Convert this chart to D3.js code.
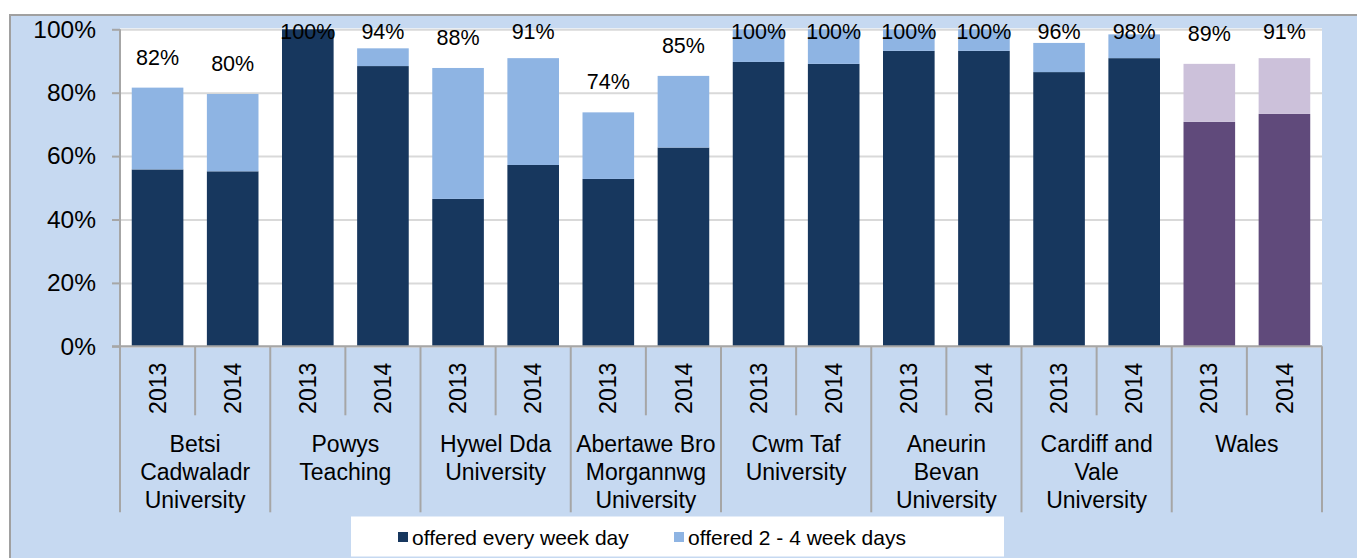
<!DOCTYPE html>
<html>
<head>
<meta charset="utf-8">
<script src="https://cdn.jsdelivr.net/npm/d3@7"></script>
<style>
  html, body { margin: 0; padding: 0; background: #fff; }
  svg { display: block; font-family: "Liberation Sans", Arial, sans-serif; }
</style>
</head>
<body>
<div id="chart"></div>
<script>
// health boards, two years each
const boards = [
  ["Betsi", "Cadwaladr", "University"],
  ["Powys", "Teaching"],
  ["Hywel Dda", "University"],
  ["Abertawe Bro", "Morgannwg", "University"],
  ["Cwm Taf", "University"],
  ["Aneurin", "Bevan", "University"],
  ["Cardiff and", "Vale", "University"],
  ["Wales"]
];
const years = ["2013", "2014"];
const yTicks = [0, 20, 40, 60, 80, 100];
const seriesNames = ["offered every week day", "offered 2 - 4 week days"];

// % offered, in board/year order
const everyDay  = [55.8, 55.2, 100, 88.4, 46.5, 57.2, 52.8, 62.7, 89.7, 89.1, 93.2, 93.2, 86.5, 90.9, 70.8, 73.3];
const twoToFour = [25.8, 24.4, 0,   5.6,  41.3, 33.7, 21.0, 22.6, 10.3, 10.9, 6.8,  6.8,  9.2,  7.5,  18.3, 17.6];

const W = 1357, H = 558;
const plotL = 120, plotR = 1322, plotT = 29.3, plotB = 346.3;
const dark = "#17375e", light = "#8eb4e3";
const walesDark = "#604a7b", walesLight = "#ccc1da";
const axisGrey = "#a6a6a6";

const svg = d3.select("#chart").append("svg")
    .attr("width", W)
    .attr("height", H);

// outer chart area
svg.append("rect")
    .attr("x", 10).attr("y", 15)
    .attr("width", W - 10).attr("height", H - 15)
    .attr("fill", "#c6d9f1");
svg.append("path")
    .attr("d", `M10,${H} L10,15 L${W},15`)
    .attr("fill", "none")
    .attr("stroke", "#a0a0a0")
    .attr("stroke-width", 2);

// plot area
svg.append("rect")
    .attr("x", plotL).attr("y", plotT - 1)
    .attr("width", plotR - plotL).attr("height", plotB - plotT + 1)
    .attr("fill", "#fff");

const rows = [];
boards.forEach((b, bi) => {
  years.forEach((yr, yi) => {
    const i = bi * years.length + yi;
    rows.push({ i, board: bi, year: yr, every: everyDay[i], some: twoToFour[i], wales: bi === boards.length - 1 });
  });
});

const x = d3.scaleBand()
    .domain(rows.map(d => d.i))
    .range([plotL, plotR])
    .paddingInner(0.313)
    .paddingOuter(0.1565);

const y = d3.scaleLinear().domain([0, 100]).range([plotB, plotT]);

// gridlines
svg.append("g")
    .attr("transform", `translate(${plotL},0)`)
    .call(d3.axisLeft(y).tickValues(yTicks).tickSize(-(plotR - plotL)).tickFormat(""))
    .call(g => g.select(".domain").remove())
    .call(g => g.selectAll("line").attr("stroke", "#d9d9d9").attr("stroke-width", 2));

// bars
const bars = svg.append("g");
bars.selectAll("rect.every")
  .data(rows)
  .join("rect")
    .attr("class", "every")
    .attr("x", d => x(d.i))
    .attr("width", x.bandwidth())
    .attr("y", d => y(d.every))
    .attr("height", d => y(0) - y(d.every))
    .attr("fill", d => d.wales ? walesDark : dark);

bars.selectAll("rect.some")
  .data(rows.filter(d => d.some > 0))
  .join("rect")
    .attr("class", "some")
    .attr("x", d => x(d.i))
    .attr("width", x.bandwidth())
    .attr("y", d => y(d.every + d.some))
    .attr("height", d => y(d.every) - y(d.every + d.some))
    .attr("fill", d => d.wales ? walesLight : light);

// total labels
svg.append("g").selectAll("text")
  .data(rows)
  .join("text")
    .attr("x", d => x(d.i) + x.bandwidth() / 2)
    .attr("y", d => Math.max(y(d.every + d.some) - 23, y(100) + 10))
    .attr("text-anchor", "middle")
    .attr("font-size", 21.5)
    .attr("fill", "#000")
    .text(d => Math.round(d.every + d.some) + "%");

// y axis
svg.append("g")
    .attr("transform", `translate(${plotL},0)`)
    .call(d3.axisLeft(y).tickValues(yTicks).tickSize(8).tickPadding(16).tickFormat(d => d + "%"))
    .call(g => g.select(".domain").attr("d", `M0,${y(0)}V${y(100)}`).attr("stroke", axisGrey).attr("stroke-width", 2))
    .call(g => g.selectAll(".tick line").attr("stroke", axisGrey).attr("stroke-width", 2))
    .call(g => g.selectAll(".tick text").attr("font-size", 24.5).attr("font-family", "Liberation Sans, Arial, sans-serif").attr("fill", "#000"));

// x axis
const step = x.step();
const xAxis = svg.append("g");
xAxis.append("line")
    .attr("x1", plotL - 8).attr("x2", plotR)
    .attr("y1", y(0)).attr("y2", y(0))
    .attr("stroke", axisGrey).attr("stroke-width", 2);

// separators: short between years, long between boards
const seps = d3.range(rows.length + 1).map(k => ({ k, major: k % years.length === 0 }));
xAxis.selectAll("line.sep")
  .data(seps)
  .join("line")
    .attr("class", "sep")
    .attr("x1", d => plotL + d.k * step)
    .attr("x2", d => plotL + d.k * step)
    .attr("y1", y(0))
    .attr("y2", d => d.major ? y(0) + 166 : y(0) + 69)
    .attr("stroke", axisGrey)
    .attr("stroke-width", 2);

xAxis.selectAll("text.year")
  .data(rows)
  .join("text")
    .attr("class", "year")
    .attr("transform", d => `translate(${x(d.i) + x.bandwidth() / 2},${y(0) + 42}) rotate(-90)`)
    .attr("dy", "0.35em")
    .attr("text-anchor", "middle")
    .attr("font-size", 23)
    .text(d => d.year);

const boardLabels = xAxis.selectAll("text.board")
  .data(boards)
  .join("text")
    .attr("class", "board")
    .attr("text-anchor", "middle")
    .attr("font-size", 23)
    .attr("x", (d, bi) => plotL + (bi * years.length + years.length / 2) * step)
    .attr("y", y(0) + 106);
boardLabels.selectAll("tspan")
  .data(d => d)
  .join("tspan")
    .attr("x", function () { return this.parentNode.getAttribute("x"); })
    .attr("dy", (d, j) => j === 0 ? 0 : 27.8)
    .text(d => d);

// legend
const legend = svg.append("g");
legend.append("rect")
    .attr("x", 351).attr("y", 516.5)
    .attr("width", 653).attr("height", 40)
    .attr("fill", "#fff");
const legendX = [398, 674];
const items = legend.selectAll("g.item")
  .data(seriesNames)
  .join("g")
    .attr("class", "item")
    .attr("transform", (d, i) => `translate(${legendX[i]},545)`);
items.append("rect")
    .attr("x", 0).attr("y", -13)
    .attr("width", 10).attr("height", 10)
    .attr("fill", (d, i) => i === 0 ? dark : light);
items.append("text")
    .attr("x", 14)
    .attr("font-size", 21)
    .text(d => d);
</script>
</body>
</html>
